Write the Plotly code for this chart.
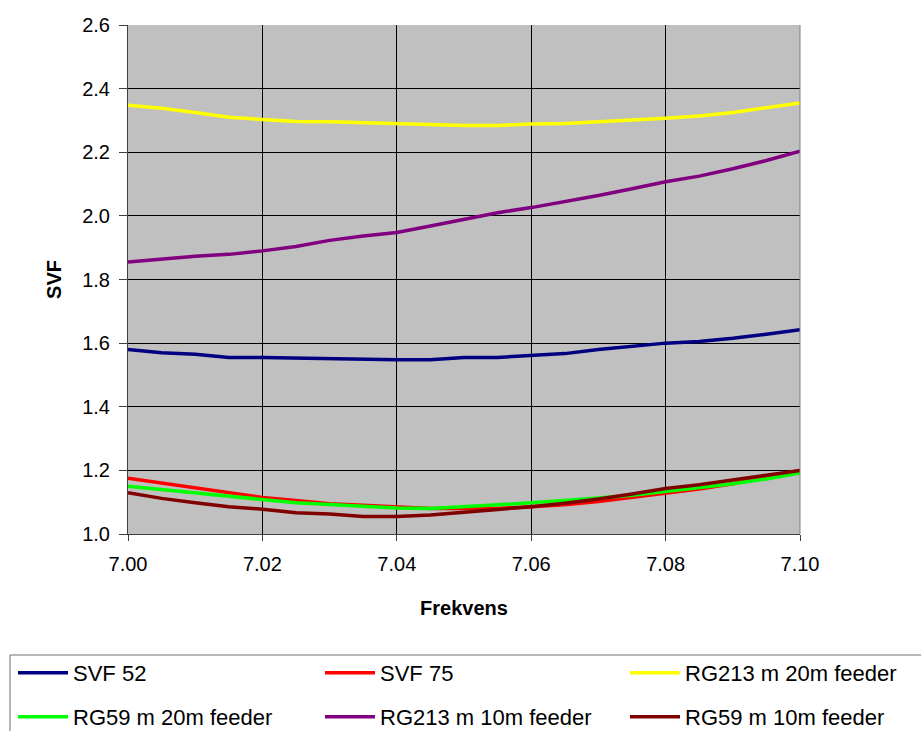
import plotly.graph_objects as go

freq = [7.000, 7.005, 7.010, 7.015, 7.020, 7.025, 7.030, 7.035, 7.040, 7.045, 7.050,
        7.055, 7.060, 7.065, 7.070, 7.075, 7.080, 7.085, 7.090, 7.095, 7.100]

svf52 = [1.580, 1.570, 1.565, 1.555, 1.555, 1.553, 1.550, 1.548, 1.548, 1.548, 1.555,
         1.555, 1.560, 1.567, 1.580, 1.590, 1.600, 1.605, 1.615, 1.628, 1.642]
svf75 = [1.175, 1.160, 1.145, 1.128, 1.115, 1.105, 1.095, 1.090, 1.085, 1.080, 1.080,
         1.080, 1.086, 1.092, 1.102, 1.115, 1.128, 1.141, 1.158, 1.178, 1.200]
rg213_20 = [2.348, 2.338, 2.325, 2.310, 2.303, 2.297, 2.296, 2.293, 2.290, 2.285, 2.284,
            2.284, 2.289, 2.290, 2.295, 2.300, 2.307, 2.314, 2.325, 2.340, 2.355]
rg59_20 = [1.150, 1.140, 1.128, 1.118, 1.108, 1.098, 1.093, 1.088, 1.082, 1.080, 1.085,
           1.092, 1.098, 1.105, 1.113, 1.122, 1.134, 1.145, 1.158, 1.173, 1.192]
rg213_10 = [1.855, 1.865, 1.873, 1.879, 1.890, 1.904, 1.923, 1.937, 1.948, 1.968, 1.989,
            2.010, 2.026, 2.044, 2.064, 2.085, 2.107, 2.125, 2.148, 2.174, 2.203]
rg59_10 = [1.130, 1.112, 1.098, 1.086, 1.078, 1.067, 1.063, 1.055, 1.055, 1.060, 1.068,
           1.076, 1.086, 1.097, 1.110, 1.126, 1.143, 1.155, 1.169, 1.185, 1.200]

series_names = ["SVF 52", "SVF 75", "RG213 m 20m feeder",
                "RG59 m 20m feeder", "RG213 m 10m feeder", "RG59 m 10m feeder"]
series_values = [svf52, svf75, rg213_20, rg59_20, rg213_10, rg59_10]
series_colors = ["#000080", "#FF0000", "#FFFF00", "#00FF00", "#800080", "#800000"]

W, H = 921, 731
L, R, T, B = 128, 800, 25, 534  # plot area in pixels
PW, PH = R - L, B - T
font_family = "Liberation Sans, Arial, sans-serif"

def px_x(p):
    return (p - L) / PW

def px_y(p):
    return (B - p) / PH

fig = go.Figure()
legend_ids = ["legend", "legend2", "legend3", "legend4", "legend5", "legend6"]
for i, (name, vals, col) in enumerate(zip(series_names, series_values, series_colors)):
    fig.add_trace(go.Scatter(x=freq, y=vals, mode="lines", name=name,
                             line=dict(color=col, width=3.5), legend=legend_ids[i]))

# legend item positions (column x of item origin, row centre y) in pixels
col_x = [13, 320, 625]
row_y = [673, 717]
legend_layout = {}
for i, lid in enumerate(legend_ids):
    legend_layout[lid] = dict(
        xref="paper", yref="container",
        x=px_x(col_x[i % 3]), xanchor="left",
        y=1 - row_y[i // 3] / H, yanchor="middle",
        bgcolor="rgba(0,0,0,0)", borderwidth=0,
        itemwidth=50,
        font=dict(family=font_family, size=22, color="black"),
    )

fig.update_layout(
    width=W, height=H,
    margin=dict(l=L, r=W - R, t=T, b=H - B),
    paper_bgcolor="white",
    plot_bgcolor="#C0C0C0",
    font=dict(family=font_family, size=20, color="black"),
    showlegend=True,
    xaxis=dict(
        range=[7.0, 7.1], dtick=0.02, tick0=7.0, tickformat=".2f",
        showgrid=True, gridcolor="black", gridwidth=1,
        showline=True, linecolor="#404040", linewidth=1,
        ticks="outside", ticklen=6, tickcolor="#404040",
        ticklabelstandoff=6,
        zeroline=False,
        title=dict(text="<b>Frekvens</b>", font=dict(size=20), standoff=26),
    ),
    yaxis=dict(
        range=[1.0, 2.6], dtick=0.2, tick0=1.0, tickformat=".1f",
        showgrid=True, gridcolor="black", gridwidth=1,
        showline=True, linecolor="#404040", linewidth=1,
        ticks="outside", ticklen=8, tickcolor="#404040",
        ticklabelstandoff=5,
        zeroline=False,
        title=dict(text="<b>SVF</b>", font=dict(size=20), standoff=15),
    ),
    **legend_layout,
)

# right border of plot area
fig.add_shape(type="line", xref="paper", yref="paper", x0=1, x1=1, y0=0, y1=1,
              line=dict(color="#808080", width=1))

# legend frame
fig.add_shape(type="rect", xref="paper", yref="paper",
              x0=px_x(10), x1=px_x(935), y0=px_y(745), y1=px_y(655),
              line=dict(color="#707070", width=1), fillcolor="rgba(0,0,0,0)",
              layer="below")

fig.write_html("out.html")
